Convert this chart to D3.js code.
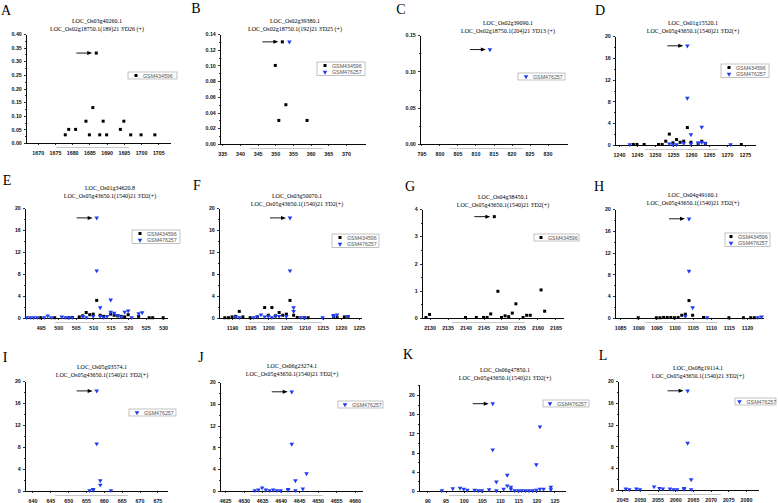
<!DOCTYPE html>
<html>
<head>
<meta charset="utf-8">
<script src="https://cdn.jsdelivr.net/npm/d3@7"></script>
<style>
  body { margin: 0; background: #fff; }
  svg text { font-family: "Liberation Sans", Arial, sans-serif; }
  .axis path, .axis line { stroke: #000; stroke-width: 0.8px; shape-rendering: crispEdges; }
  .axis text { font-size: 5.3px; fill: #111; font-weight: bold; }
</style>
</head>
<body>
<svg id="chart" width="778" height="503"></svg>
<script>
// panel texts
var letters = ["A", "B", "C", "D", "E", "F", "G", "H", "I", "J", "K", "L"];
var geneNames = ["LOC_Os03g40260.1", "LOC_Os02g39380.1", "LOC_Os02g39090.1", "LOC_Os01g15520.1",
                 "LOC_Os01g34620.8", "LOC_Os03g50070.1", "LOC_Os04g38450.1", "LOC_Os04g49160.1",
                 "LOC_Os05g03574.1", "LOC_Os06g23274.1", "LOC_Os06g47850.1", "LOC_Os08g19114.1"];
var targetNames = ["LOC_Os02g18750.1(189)21 3'D26 (+)", "LOC_Os02g18750.1(192)21 3'D25 (+)",
                   "LOC_Os02g18750.1(204)21 3'D13 (+)", "LOC_Os05g43650.1(1540)21 3'D2(+)",
                   "LOC_Os05g43650.1(1540)21 3'D2(+)", "LOC_Os05g43650.1(1540)21 3'D2(+)",
                   "LOC_Os05g43650.1(1540)21 3'D2(+)", "LOC_Os05g43650.1(1540)21 3'D2(+)",
                   "LOC_Os05g43650.1(1540)21 3'D2(+)", "LOC_Os05g43650.1(1540)21 3'D2(+)",
                   "LOC_Os05g43650.1(1540)21 3'D2(+)", "LOC_Os05g43650.1(1540)21 3'D2(+)"];
var seriesNames = ["GSM434596", "GSM476257"];

// axes
var xDomains = [[1666.6, 1708.4], [334.35, 375.4], [794.6, 835.4], [1238.9, 1277.8],
                [490.5, 531.1], [1186.4, 1225.6], [2127.9, 2167.1], [1083.6, 1124.4],
                [637.9, 677.7], [4623.6, 4662], [87.7, 127.9], [2043.8, 2083.4]];
var xFirstLabels = [1670, 335, 795, 1240, 495, 1190, 2130, 1085, 640, 4625, 90, 2045];
var yDomains = [[0, 0.4], [0, 0.14], [0, 0.15], [0, 20], [0, 20], [0, 20],
                [0, 4], [0, 20], [0, 20], [0, 20], [0, 22.3], [0, 20]];
var yLabelTops = [0.4, 0.14, 0.15, 20, 20, 20, 4, 20, 20, 20, 20, 20];
var yLabelSteps = [0.05, 0.02, 0.05, 4, 4, 4, 1, 4, 4, 4, 4, 4];

// GSM434596 (black squares), GSM476257 (blue triangles): [position, value]
var aBlack = [[1678,0.03],[1679,0.05],[1681,0.05],[1684,0.08],[1685,0.03],[1686,0.13],[1687,0.33],
              [1688,0.03],[1689,0.08],[1690,0.03],[1694,0.05],[1695,0.08],[1697,0.03],[1700,0.03],[1704,0.03]];
var bBlack = [[350,0.10],[351,0.03],[352,0.13],[353,0.05],[359,0.03]];
var bBlue = [[354,0.13]];
var cBlue = [[814,0.13]];
var dBlack = [[1244,0.1],[1245,0.1],[1247,0.1],[1251,0.1],[1252,0.1],[1253,0.7],[1254,2.0],[1255,0.4],
              [1256,1.0],[1257,0.5],[1258,0.7],[1259,3.2],[1260,0.5],[1262,0.3],[1263,0.7],[1264,0.3],[1274,0.1]];
var dBlue = [[1243,0.1],[1254,0.2],[1255,0.1],[1256,0.1],[1258,0.3],[1259,18.2],[1259,8.6],[1260,1.9],
             [1260,0.2],[1262,0.4],[1263,3.3],[1263,0.5],[1264,0.3],[1271,0.1]];
var eBlack = [[495,0.05],[499,0.05],[503,0.05],[504,0.1],[506,0.2],[507,0.4],[508,1.0],[509,0.6],[510,0.7],
              [511,3.2],[512,0.5],[513,0.3],[515,0.7],[516,0.5],[517,0.4],[518,0.3],[519,0.2],[520,0.6],
              [523,0.3],[526,0.05],[527,0.05],[530,0.05]];
var eBlue = [[491,0.1],[492,0.1],[493,0.1],[494,0.1],[496,0.1],[497,0.4],[498,0.1],[501,0.2],[502,0.1],
             [503,0.1],[504,0.1],[507,0.3],[508,0.1],[510,0.3],[511,18.2],[511,8.6],[512,1.9],[512,0.3],
             [513,0.1],[514,0.3],[515,3.3],[515,1.1],[516,0.9],[517,0.5],[518,0.2],[519,1.1],[520,1.3],
             [521,0.1],[523,0.8],[524,1.0]];
var fBlack = [[1188,0.05],[1189,0.05],[1190,0.2],[1191,0.3],[1192,1.2],[1193,0.2],[1195,0.05],[1197,0.2],
              [1199,1.9],[1200,0.5],[1201,1.9],[1202,0.4],[1203,1.0],[1204,0.5],[1205,0.7],[1206,3.2],
              [1207,0.5],[1208,0.1],[1210,0.05],[1211,0.05],[1218,0.3],[1219,0.1],[1221,0.2],[1222,0.2]];
var fBlue = [[1191,0.2],[1192,0.1],[1196,0.1],[1197,0.2],[1198,0.6],[1199,0.2],[1200,0.3],[1201,0.1],
             [1202,0.3],[1203,0.3],[1205,0.3],[1206,18.2],[1206,8.6],[1207,1.9],[1207,1.2],[1209,0.1],
             [1210,0.1],[1215,0.1],[1218,0.5],[1218,0.3],[1219,0.6],[1222,0.3]];
var gBlack = [[2129,0.02],[2130,0.13],[2140,0.02],[2143,0.02],[2145,0.02],[2146,0.02],[2147,0.15],
              [2148,3.72],[2149,0.98],[2150,0.02],[2151,0.08],[2152,0.05],[2153,0.18],[2154,0.52],
              [2156,0.02],[2157,0.1],[2158,0.1],[2161,1.03],[2162,0.25]];
var hBlack = [[1090,0.05],[1095,0.05],[1096,0.05],[1097,0.1],[1098,0.1],[1099,0.1],[1100,0.05],[1101,0.1],
              [1102,0.5],[1103,0.7],[1104,3.2],[1105,0.5],[1108,0.1],[1115,0.05],[1119,0.05],[1121,0.05],[1122,0.05]];
var hBlue = [[1103,0.3],[1104,18.2],[1104,8.6],[1105,1.9],[1109,0.1],[1123,0.1],[1124,0.2]];
var iBlue = [[656,0.1],[657,0.3],[657,0.15],[658,18.2],[658,8.6],[659,1.9],[659,1.1],[662,0.1]];
var jBlue = [[4633,0.1],[4634,0.2],[4635,0.6],[4636,0.2],[4637,0.1],[4638,0.2],[4639,0.1],[4640,0.1],
             [4642,0.3],[4642,0.15],[4643,18.2],[4643,8.6],[4644,1.9],[4644,0.1],[4646,0.4],[4647,3.2]];
var kBlue = [[94,0.1],[97,0.5],[99,0.6],[100,0.4],[101,0.2],[103,0.2],[104,0.1],[105,0.1],[107,0.3],
             [108,18.2],[108,8.6],[109,1.9],[109,0.1],[111,0.4],[112,3.3],[112,1.1],[113,0.8],[113,0.4],
             [114,0.1],[115,0.1],[116,0.1],[117,0.1],[118,0.1],[119,0.1],[120,5.5],[120,0.2],[121,13.4],
             [121,0.4],[122,0.4],[124,0.8],[124,0.3]];
var lBlue = [[2046,0.2],[2047,0.1],[2049,0.2],[2050,0.1],[2054,0.6],[2055.5,0.3],[2056.5,0.2],[2058.5,0.2],
             [2059.5,0.1],[2060.5,0.1],[2062.5,0.3],[2062.5,0.1],[2063.5,18.2],[2063.5,8.6],[2064.5,1.9],[2064.5,0.1]];

var blackSets = [aBlack, bBlack, null, dBlack, eBlack, fBlack, gBlack, hBlack, null, null, null, null];
var blueSets = [null, bBlue, cBlue, dBlue, eBlue, fBlue, null, hBlue, iBlue, jBlue, kBlue, lBlue];

// layout: plot box [left, right, top, bottom], title centre, letter centre, legend box [x, y, w, text x]
var frames = [[26,170,34,143],[220,365,34,144],[420,567,35,144],[615,755,36,145],
              [25,167,208,318],[219,361,208,318],[422,563,209,318],[615,763,209,318],
              [25,167,381,491],[220,362,382,491],[419,565,384,491],[618,758,381,490]];
var titleAt = [[97,21],[295,21],[508,23],[693,23],[110,188],[297,196],[503,197],[693,195],
               [102,367],[292,366],[505,370],[698,368]];
var letterAt = [[6,10],[196,8],[401,9],[600,10],[7,180],[197,185],[410,186],[599,186],
                [5,357],[201,357],[408,354],[603,355]];
var legendAt = [[128,72,49,15],[317,62,48,15],[518,73,47,15],[721,64,48,15],[132,230,48,15],[332,234,47,15],
                [534,234,45,14],[725,233,45,13],[129,409,47,15],[338,401,45,14],[543,400,46,14],[735,398,41,11.5]];

var blue = "#1f3cf2";
var svg = d3.select("#chart");
svg.append("rect").attr("width", 778).attr("height", 503).attr("fill", "#fff");

var square = d3.symbol().type(d3.symbolSquare).size(9);
var tri = d3.symbol().type(d3.symbolTriangle).size(9);

function drawMarks(g, pts, x, y, isBlue) {
    g.selectAll(null).data(pts).enter().append("path")
        .attr("d", isBlue ? tri : square)
        .attr("transform", function (d) {
            return "translate(" + x(d[0]) + "," + y(d[1]) + ")" + (isBlue ? " rotate(180)" : "");
        })
        .attr("fill", isBlue ? blue : "#000");
}

letters.forEach(function (letter, i) {
    var f = frames[i],
        g = svg.append("g");
    var x = d3.scaleLinear().domain(xDomains[i]).range([f[0], f[1]]),
        y = d3.scaleLinear().domain(yDomains[i]).range([f[3], f[2]]);

    // panel letter and titles
    g.append("text").attr("x", letterAt[i][0]).attr("y", letterAt[i][1] + 5)
        .attr("text-anchor", "middle")
        .style("font-family", "'Liberation Serif', 'Times New Roman', serif")
        .style("font-size", "14px").text(letter);
    [geneNames[i], targetNames[i]].forEach(function (t, k) {
        g.append("text").attr("x", titleAt[i][0]).attr("y", titleAt[i][1] + 2 + k * 8)
            .attr("text-anchor", "middle")
            .style("font-family", "'Liberation Serif', 'Times New Roman', serif")
            .style("font-size", "6px").text(t);
    });

    // ticks
    var xMajor = d3.range(xFirstLabels[i], xFirstLabels[i] + 36, 5),
        xMinor = d3.range(xFirstLabels[i] - 2.5, xDomains[i][1], 5)
            .filter(function (v) { return v > xDomains[i][0]; }),
        step = yLabelSteps[i],
        yMajor = d3.range(0, yLabelTops[i] + step / 2, step),
        yMinor = d3.range(step / 2, yDomains[i][1], step),
        fmt = step < 1 ? d3.format(".2f") : d3.format("d");

    g.append("g").attr("class", "axis").attr("transform", "translate(0," + f[3] + ")")
        .call(d3.axisBottom(x).tickValues(xMinor).tickSize(1.2).tickSizeOuter(0).tickFormat(""));
    g.append("g").attr("class", "axis").attr("transform", "translate(0," + f[3] + ")")
        .call(d3.axisBottom(x).tickValues(xMajor).tickSize(2.2).tickSizeOuter(0).tickPadding(6)
            .tickFormat(d3.format("d")));
    g.append("g").attr("class", "axis").attr("transform", "translate(" + f[0] + ",0)")
        .call(d3.axisLeft(y).tickValues(yMinor).tickSize(1.2).tickSizeOuter(0).tickFormat(""));
    g.append("g").attr("class", "axis").attr("transform", "translate(" + f[0] + ",0)")
        .call(d3.axisLeft(y).tickValues(yMajor).tickSize(2.2).tickSizeOuter(0).tickPadding(2)
            .tickFormat(fmt));

    // faint bar under the axis
    g.append("line").attr("x1", f[0] + 30).attr("x2", f[0] + 103)
        .attr("y1", f[3] + 4.5).attr("y2", f[3] + 4.5)
        .attr("stroke", "#c8c8c8").attr("stroke-width", 1);

    // points
    var all = [];
    if (blackSets[i]) { drawMarks(g, blackSets[i], x, y, false); all = all.concat(blackSets[i]); }
    if (blueSets[i]) { drawMarks(g, blueSets[i], x, y, true); all = all.concat(blueSets[i]); }

    // arrow pointing at the highest point
    var top = all.reduce(function (a, b) { return b[1] > a[1] ? b : a; }),
        px = x(top[0]), py = y(top[1]);
    g.append("line").attr("x1", px - 20).attr("x2", px - 8).attr("y1", py).attr("y2", py)
        .attr("stroke", "#000").attr("stroke-width", 0.9);
    g.append("path")
        .attr("d", "M" + (px - 4) + "," + py + "L" + (px - 9) + "," + (py - 2) + "L" + (px - 9) + "," + (py + 2) + "Z")
        .attr("fill", "#000");

    // legend
    var entries = [];
    if (blackSets[i]) entries.push(0);
    if (blueSets[i]) entries.push(1);
    var L = legendAt[i],
        lg = g.append("g").attr("transform", "translate(" + L[0] + "," + L[1] + ")");
    lg.append("rect").attr("width", L[2]).attr("height", entries.length * 6.5 + 0.5)
        .attr("fill", "#fff").attr("stroke", "#9a9a9a").attr("stroke-width", 0.6);
    entries.forEach(function (s, k) {
        var cy = 3.5 + k * 6.5;
        lg.append("path").attr("d", s ? tri : square)
            .attr("transform", "translate(" + (L[3] - 7) + "," + cy + ")" + (s ? " rotate(180)" : ""))
            .attr("fill", s ? blue : "#000");
        lg.append("text").attr("x", L[3]).attr("y", cy + 2)
            .style("font-size", "5.3px").attr("fill", "#555").text(seriesNames[s]);
    });
});
</script>
</body>
</html>
